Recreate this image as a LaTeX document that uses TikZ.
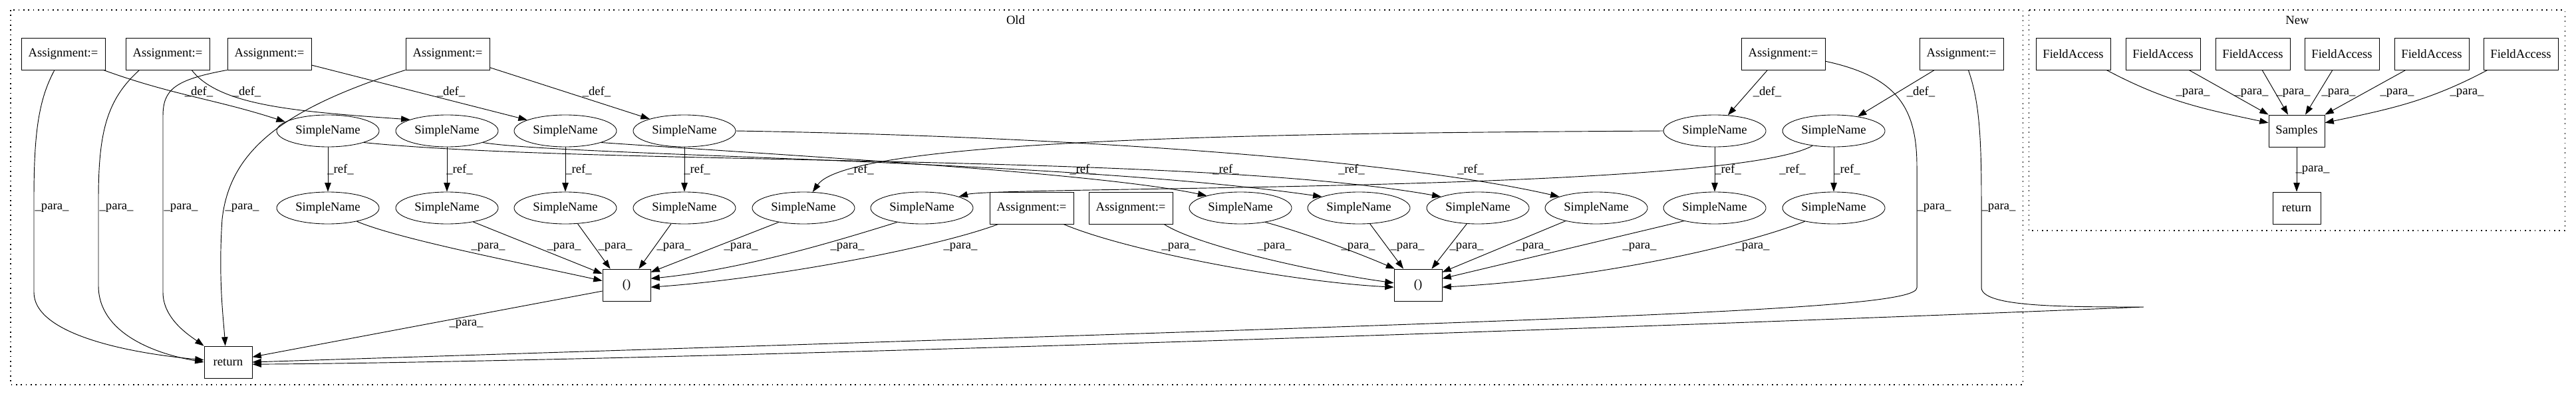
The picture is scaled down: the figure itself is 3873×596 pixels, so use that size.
\documentclass[tikz,border=0pt]{standalone}
\usepackage{fontspec}
\setmainfont{Liberation Serif}
\usetikzlibrary{arrows.meta,shapes.geometric}

\begin{document}
\begin{tikzpicture}[x=0.75pt,y=-0.75pt,
  every node/.style={font=\fontsize{14pt}{16pt}\selectfont},
  blk/.style={draw,rectangle,minimum width=54pt,minimum height=36pt,inner sep=2pt,line width=0.65pt},
  asg/.style={blk,minimum width=94.5pt},
  fld/.style={blk,minimum width=84pt},
  sname/.style={draw,ellipse,minimum width=115.5pt,minimum height=36pt,inner sep=0pt,line width=0.65pt},
  arr/.style={-{Triangle[length=10pt,width=7pt]},line width=0.7pt},
  lbl/.style={inner sep=1pt},
  clus/.style={dash pattern=on 1.2pt off 4.3pt,line width=0.8pt}]
\useasboundingbox (0,0) rectangle (3873,596);
\draw[clus] (16,15) rectangle (3041,579);
\draw[clus] (3050,15) rectangle (3856,347);
\node (old) at (1527,30) {Old};
\node (new) at (3454,30) {New};
\foreach \n/\x in {a1/95,a2/252,a3/405,a4/673,a5/2681,a6/2949} {
   \node[asg] (\n) at (\x,81) {Assignment:=};
}
\foreach \n/\x in {s1/493,s2/672,s3/850,s4/1029,s5/2578,s6/2757} {
   \node[sname] (\n) at (\x,197) {SimpleName};
}
\foreach \n/\x in {t1/493,t2/672,t3/850,t4/1029,t5/1208,t6/1386,t7/1865,t8/2043,t9/2222,t10/2400,t11/2578,t12/2757} {
   \node[sname] (\n) at (\x,313) {SimpleName};
}
\node[asg] (a7) at (1551,313) {Assignment:=};
\node[asg] (a8) at (1700,313) {Assignment:=};
\node[blk] (p1) at (942,429) {()};
\node[blk] (p2) at (2132,429) {()};
\node[blk] (r1) at (343,545) {return};
\foreach \n/\x in {f1/3117,f2/3252,f3/3387,f4/3521,f5/3656,f6/3790} {
   \node[fld] (\n) at (\x,81) {FieldAccess};
}
\node[blk,minimum width=63pt] (smp) at (3453,197) {Samples};
\node[blk] (r2) at (3453,313) {return};
\draw[arr] (a1.-22) to[out=-20,in=162] (s1.168) node[lbl] at (299,138) {\_def\_};
\draw[arr] (a2.-34) .. controls (330,160) and (450,168) .. (s2.163) node[lbl] at (371,138) {\_def\_};
\draw[arr] (a3.-15) -- (s3.164) node[lbl] at (678,138) {\_def\_};
\draw[arr] (a4.-18) -- (s4.161) node[lbl] at (897,138) {\_def\_};
\draw[arr] (a5.-134) -- (s5.50) node[lbl] at (2657,138) {\_def\_};
\draw[arr] (a6.-149) -- (s6.31) node[lbl] at (2888,138) {\_def\_};
\foreach \u/\v/\x in {s1/t1/512,s2/t2/691,s3/t3/870,s4/t4/1048,s5/t11/2598,s6/t12/2777} {
   \draw[arr] (\u) -- (\v) node[lbl] at (\x,255) {\_ref\_};
}
\draw[arr] (s1.-18) .. controls (900,250) and (1800,230) .. (t9.163) node[lbl] at (2032,255) {\_ref\_};
\draw[arr] (s2.-18) .. controls (850,235) and (1600,240) .. (t8.163) node[lbl] at (1843,255) {\_ref\_};
\draw[arr] (s3.-18) .. controls (1200,235) and (1650,260) .. (t7.160) node[lbl] at (1628,255) {\_ref\_};
\draw[arr] (s4.east) .. controls (1600,205) and (2100,240) .. (t10.163) node[lbl] at (2211,255) {\_ref\_};
\draw[arr] (s5.west) .. controls (2000,200) and (1280,205) .. (t5.60) node[lbl] at (1294,255) {\_ref\_};
\draw[arr] (s6.-145) .. controls (2600,290) and (1500,280) .. (t6.17) node[lbl] at (2695,255) {\_ref\_};
\draw[arr] (t1.-25) .. controls (600,360) and (780,395) .. (p1.170) node[lbl] at (734,372) {\_para\_};
\draw[arr] (t2.-28) -- (p1.155) node[lbl] at (848,372) {\_para\_};
\draw[arr] (t3.-52) -- (p1.135) node[lbl] at (925,372) {\_para\_};
\draw[arr] (t4.-130) -- (p1.53) node[lbl] at (1013,372) {\_para\_};
\draw[arr] (t5.-150) -- (p1.28) node[lbl] at (1114,372) {\_para\_};
\draw[arr] (t6.-150) .. controls (1260,362) and (1120,405) .. (p1.15) node[lbl] at (1274,372) {\_para\_};
\draw[arr] (a7.-154) .. controls (1400,375) and (1150,420) .. (p1.-5) node[lbl] at (1444,372) {\_para\_};
\draw[arr] (a7.-27) .. controls (1700,380) and (1950,425) .. (p2.-175) node[lbl] at (1772,372) {\_para\_};
\draw[arr] (a8.-26) .. controls (1800,370) and (1980,410) .. (p2.175) node[lbl] at (1916,372) {\_para\_};
\draw[arr] (t7.-30) .. controls (1960,350) and (2040,380) .. (p2.145) node[lbl] at (2042,372) {\_para\_};
\draw[arr] (t8.-55) -- (p2.132) node[lbl] at (2116,372) {\_para\_};
\draw[arr] (t9.-125) -- (p2.50) node[lbl] at (2205,372) {\_para\_};
\draw[arr] (t10.-157) -- (p2.28) node[lbl] at (2305,372) {\_para\_};
\draw[arr] (t11.-157) -- (p2.15) node[lbl] at (2465,372) {\_para\_};
\draw[arr] (t12.-155) .. controls (2620,370) and (2400,420) .. (p2.-5) node[lbl] at (2635,372) {\_para\_};
\draw[arr] (p1.-166) -- (r1.12) node[lbl] at (701,488) {\_para\_};
\draw[arr] (a1.-118) .. controls (58,150) and (51,200) .. (51,300) -- (51,440) .. controls (51,500) and (180,530) .. (r1.175) node[lbl] at (78,313) {\_para\_};
\draw[arr] (a2.-150) .. controls (160,150) and (148,200) .. (148,300) -- (148,430) .. controls (148,500) and (230,532) .. (r1.180) node[lbl] at (175,313) {\_para\_};
\draw[arr] (a3.south west) .. controls (262,120) and (245,135) .. (245,175) -- (245,440) .. controls (245,480) and (285,505) .. (r1.north west) node[lbl] at (272,313) {\_para\_};
\draw[arr] (a4.south west) .. controls (420,165) and (345,230) .. (334,330) .. controls (328,420) and (336,480) .. (r1.100) node[lbl] at (364,313) {\_para\_};
\draw[arr] (a5.-10) .. controls (2850,115) and (2882,160) .. (2882,250) -- (2882,433) .. controls (2882,468) and (2400,480) .. (r1.east) node[lbl] at (2908,313) {\_para\_};
\draw[arr] (a6.-67) .. controls (2975,150) and (2979,200) .. (2979,300) -- (2979,433) .. controls (2980,462) and (3100,462) .. (3223,462) .. controls (2300,500) and (900,545) .. (r1.-5) node[lbl] at (3005,313) {\_para\_};
\draw[arr] (f1.-26) to[out=-28,in=168] (smp.164) node[lbl] at (3297,140) {\_para\_};
\draw[arr] (f2.-32) -- (smp.north west) node[lbl] at (3385,140) {\_para\_};
\draw[arr] (f3.-60) -- (smp.118) node[lbl] at (3448,140) {\_para\_};
\draw[arr] (f4.-120) -- (smp.62) node[lbl] at (3516,140) {\_para\_};
\draw[arr] (f5.-148) -- (smp.north east) node[lbl] at (3604,140) {\_para\_};
\draw[arr] (f6.-154) to[out=-152,in=12] (smp.16) node[lbl] at (3709,140) {\_para\_};
\draw[arr] (smp) -- (r2) node[lbl] at (3477,256) {\_para\_};
\end{tikzpicture}
\end{document}
